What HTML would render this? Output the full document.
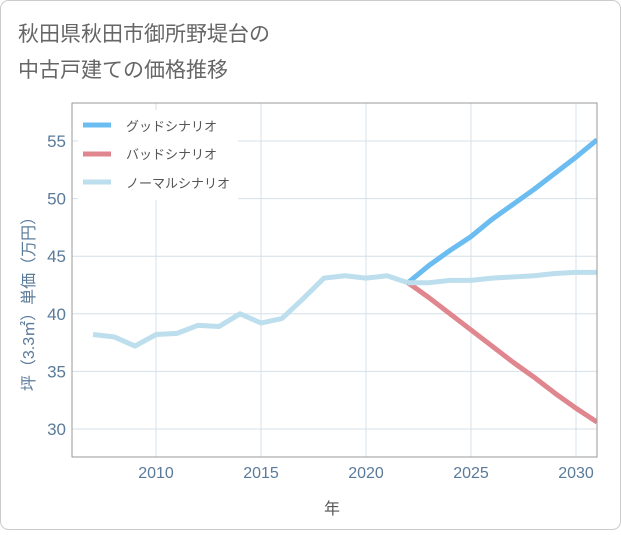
<!DOCTYPE html>
<html><head><meta charset="utf-8"><style>
body{margin:0;background:#fff;}
svg text{font-family:"Liberation Sans","Noto Sans CJK JP",sans-serif;}
</style></head><body>
<svg width="621" height="530" xmlns="http://www.w3.org/2000/svg">
<rect x="0.5" y="0.5" width="620" height="529" rx="8" fill="#fff" stroke="#ccc"/>
<text x="18" y="41" font-size="21" fill="#666">秋田県秋田市御所野堤台の</text>
<text x="18" y="77" font-size="21" fill="#666">中古戸建ての価格推移</text>
<g id="grid"></g>
<g id="lines"></g>
<rect x="72" y="103" width="525" height="354" fill="none" stroke="#999" stroke-width="1"/>
<g id="axes"></g>
<text x="332" y="514" font-size="16" fill="#555" text-anchor="middle">年</text>
<text transform="translate(34,300) rotate(-90)" font-size="16" fill="#5a7a9a" text-anchor="middle">坪（3.3㎡）単価（万円）</text>
<g>
<rect x="78" y="110" width="160" height="90" fill="#fff"/>
<line x1="83" y1="125" x2="111" y2="125" stroke="#6bbcf0" stroke-width="5"/>
<text x="126" y="131" font-size="13" fill="#555">グッドシナリオ</text>
<line x1="83" y1="154" x2="111" y2="154" stroke="#e0868e" stroke-width="5"/>
<text x="126" y="159" font-size="13" fill="#555">バッドシナリオ</text>
<line x1="83" y1="182" x2="111" y2="182" stroke="#bcdeed" stroke-width="5"/>
<text x="126" y="188" font-size="13" fill="#555">ノーマルシナリオ</text>
</g>
</svg>
<script>
const histYears=[2007,2008,2009,2010,2011,2012,2013,2014,2015,2016,2017,2018,2019,2020,2021,2022];
const histValues=[38.2,38.0,37.2,38.2,38.3,39.0,38.9,40.0,39.2,39.6,41.3,43.1,43.3,43.1,43.3,42.7];
const futYears=[2022,2023,2024,2025,2026,2027,2028,2029,2030,2031];
const goodValues=[42.7,44.2,45.5,46.7,48.2,49.5,50.8,52.2,53.6,55.1];
const badValues=[42.7,41.4,40.0,38.6,37.2,35.8,34.5,33.1,31.8,30.6];
const normalValues=[42.7,42.7,42.9,42.9,43.1,43.2,43.3,43.5,43.6,43.6];
const xTicks=[2010,2015,2020,2025,2030];
const yTicks=[30,35,40,45,50,55];
const X=y=>156+(y-2010)*21;
const Y=v=>429-(v-30)*11.52;
const NS="http://www.w3.org/2000/svg";
const grid=document.getElementById('grid'),lines=document.getElementById('lines'),axes=document.getElementById('axes');
function mk(tag,attrs,parent){const e=document.createElementNS(NS,tag);for(const k in attrs)e.setAttribute(k,attrs[k]);parent.appendChild(e);return e;}
xTicks.forEach(t=>{
 const l=mk('line',{x1:X(t),x2:X(t),y1:103,y2:457,stroke:'#d5e0ea'},grid);
 
 
 const tx=mk('text',{x:X(t),y:478,'font-size':16,fill:'#5a7a9a','text-anchor':'middle'},axes);
 tx.textContent=t;
 
 
});
yTicks.forEach(t=>{
 const l=mk('line',{x1:72,x2:597,y1:Y(t),y2:Y(t),stroke:'#d5e0ea'},grid);
 
 
 const tx=mk('text',{x:66,y:Y(t)+6,'font-size':17,fill:'#5a7a9a','text-anchor':'end'},axes);
 tx.textContent=t;
 
 
});
function path(xs,vs,color,name){
 const d=xs.map((x,i)=>(i?'L':'M')+X(x)+','+Y(vs[i])).join(' ');
 const p=mk('path',{d:d,fill:'none',stroke:color,'stroke-width':5,'stroke-linejoin':'round'},lines);
 
 
}
const clip=mk('clipPath',{id:'pc'},document.querySelector('svg'));
mk('rect',{x:72,y:103,width:525,height:354},clip);
lines.setAttribute('clip-path','url(#pc)');
path(futYears,goodValues,'#6bbcf0','good-scenario-line');
path(futYears,badValues,'#e0868e','bad-scenario-line');
path(futYears,normalValues,'#bcdeed','normal-scenario-line');
path(histYears,histValues,'#bcdeed','historical-line');
</script>
</body></html>
